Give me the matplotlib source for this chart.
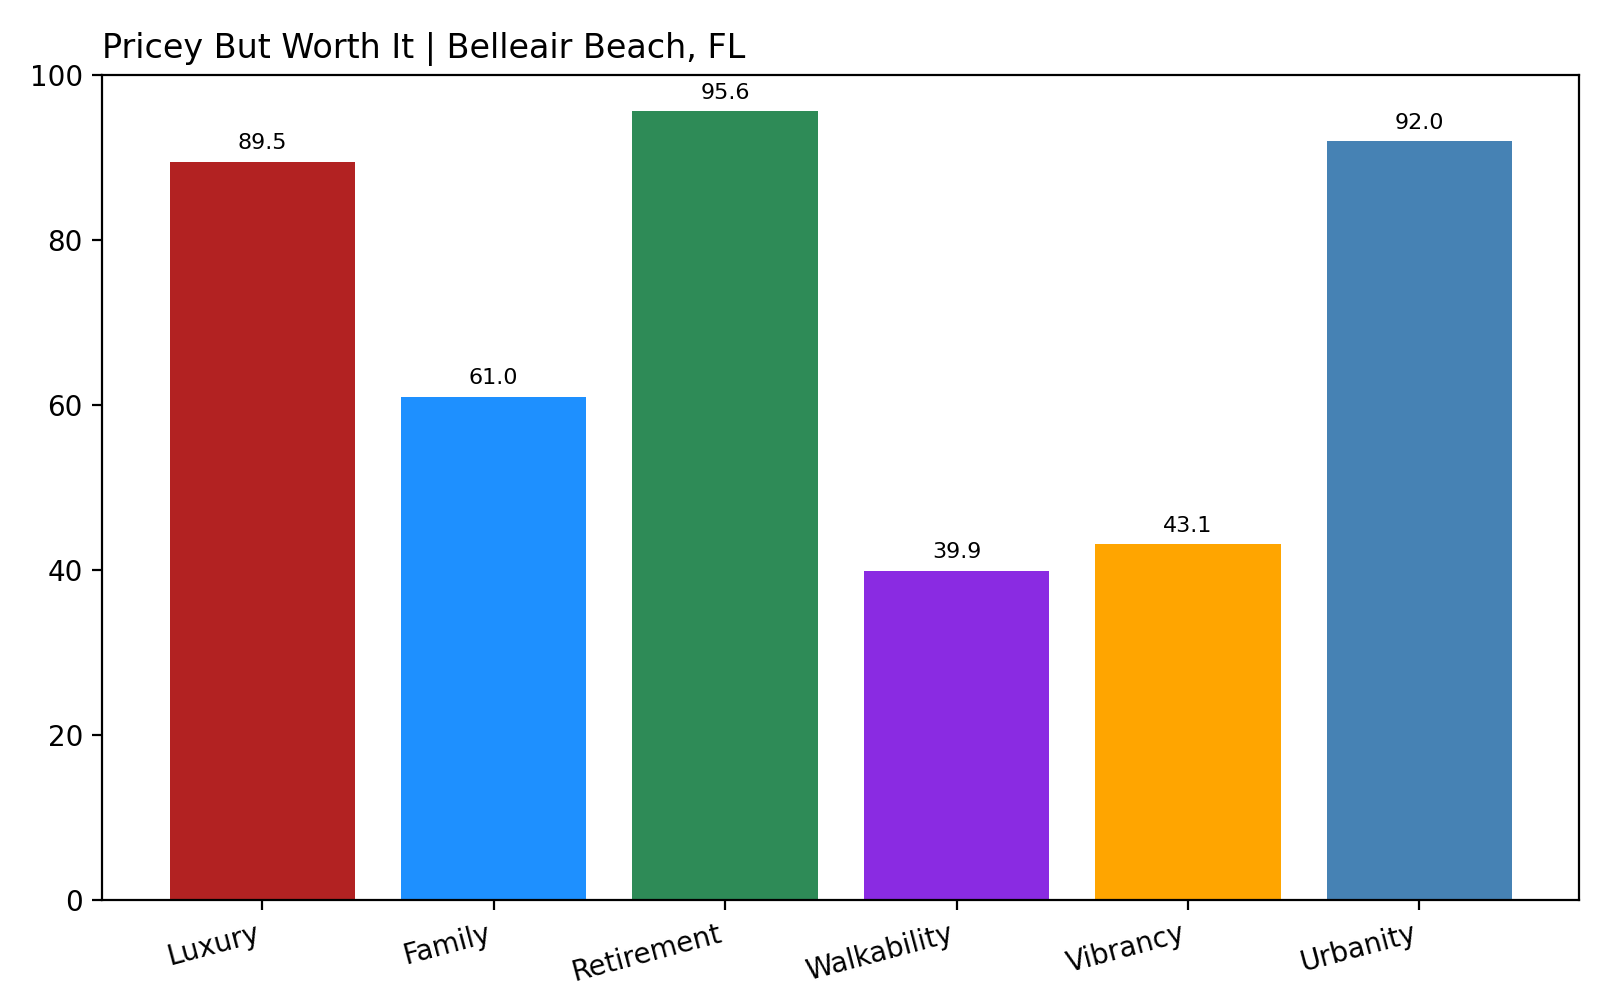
import matplotlib
matplotlib.use("Agg")
import matplotlib.pyplot as plt

categories = ["Luxury", "Family", "Retirement", "Walkability", "Vibrancy", "Urbanity"]
values = [89.5, 61.0, 95.6, 39.9, 43.1, 92.0]
colors = ["firebrick", "dodgerblue", "seagreen", "blueviolet", "orange", "steelblue"]

fig, ax = plt.subplots(figsize=(8, 5), dpi=200)
fig.subplots_adjust(left=0.064, right=0.987, top=0.925, bottom=0.1)
bars = ax.bar(categories, values, color=colors)
for b, v in zip(bars, values):
    ax.annotate(f"{v:.1f}", (b.get_x() + b.get_width() / 2, v), xytext=(0, 3),
                textcoords="offset points", ha="center", va="bottom", fontsize=8)
ax.set_ylim(0, 100)
ax.set_title("Pricey But Worth It | Belleair Beach, FL", loc="left", fontsize=12)
plt.setp(ax.get_xticklabels(), rotation=15, ha="right")
fig.savefig("out.png")
